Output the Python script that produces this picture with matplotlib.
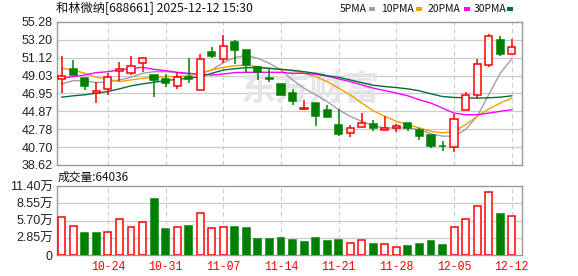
import matplotlib
matplotlib.use("Agg")
import matplotlib.pyplot as plt
from matplotlib.patches import Rectangle
import numpy as np

# ---- data ----
dates = ["10-20", "10-21", "10-22", "10-23", "10-24", "10-27", "10-28", "10-29", "10-30", "10-31",
         "11-03", "11-04", "11-05", "11-06", "11-07", "11-10", "11-11", "11-12", "11-13", "11-14",
         "11-17", "11-18", "11-19", "11-20", "11-21", "11-24", "11-25", "11-26", "11-27", "11-28",
         "12-01", "12-02", "12-03", "12-04", "12-05", "12-08", "12-09", "12-10", "12-11", "12-12"]

opens = [48.68, 49.76, 48.76, 47.03, 47.45, 49.61, 49.30, 50.46, 49.11, 48.61,
         47.84, 48.92, 47.30, 51.77, 50.92, 52.96, 52.00, 50.07, 48.72, 48.07,
         46.99, 45.17, 45.83, 44.98, 43.32, 42.36, 43.05, 43.40, 42.67, 42.90,
         43.52, 42.75, 42.09, 40.89, 40.74, 45.06, 46.76, 50.23, 53.16, 51.61]
closes = [48.95, 49.11, 47.87, 47.26, 48.84, 49.76, 50.11, 51.04, 48.53, 48.22,
          48.84, 48.61, 50.92, 51.31, 52.54, 52.00, 50.26, 49.49, 48.65, 46.80,
          46.02, 45.25, 44.29, 44.25, 42.21, 42.94, 43.52, 42.90, 42.95, 43.13,
          42.94, 41.97, 40.89, 40.78, 43.98, 46.72, 50.34, 53.62, 51.50, 52.39]
highs = [51.31, 50.84, 48.80, 48.34, 49.38, 50.61, 51.31, 51.23, 49.15, 49.19,
         49.49, 51.11, 51.54, 52.31, 53.74, 53.16, 52.00, 50.10, 49.88, 48.07,
         47.45, 46.22, 45.83, 45.64, 45.14, 43.25, 44.67, 43.90, 44.29, 43.44,
         43.52, 42.94, 42.09, 41.47, 44.60, 47.10, 50.92, 53.93, 53.62, 53.35]
lows = [47.06, 49.11, 47.37, 45.79, 46.83, 48.41, 49.11, 49.49, 46.52, 47.76,
        47.45, 48.22, 47.30, 51.11, 50.54, 50.34, 49.30, 48.53, 48.34, 46.80,
        45.56, 45.06, 43.13, 44.21, 41.97, 41.86, 43.05, 42.55, 42.67, 42.44,
        42.55, 41.59, 40.63, 40.24, 40.12, 45.06, 46.29, 50.07, 51.31, 51.50]
prev_close = 48.60  # close of the day before the window

ma5 = [48.07, 48.45, 48.41, 48.22, 48.30, 48.53, 48.84, 49.30, 49.49, 49.49,
       49.38, 49.22, 49.30, 49.69, 50.54, 51.15, 51.38, 51.04, 50.46, 49.69,
       48.53, 47.57, 46.80, 46.02, 45.06, 44.29, 43.71, 43.21, 42.94, 42.94,
       42.94, 42.75, 42.25, 41.98, 41.98, 42.75, 44.29, 46.80, 49.30, 50.96]
ma10 = [49.88, 49.69, 49.30, 48.84, 48.61, 48.34, 48.53, 48.72, 48.84, 48.92,
        48.92, 48.99, 49.30, 49.69, 50.00, 50.19, 50.27, 50.07, 49.88, 49.76,
        49.61, 49.30, 48.92, 48.34, 47.57, 46.80, 45.83, 44.94, 44.29, 43.71,
        43.32, 42.94, 42.55, 42.36, 42.55, 43.32, 44.29, 45.14, 45.83, 46.41]
ma20 = [48.72, 48.92, 49.11, 49.38, 49.49, 49.69, 49.88, 50.00, 49.76, 49.61,
        49.42, 49.30, 49.22, 49.11, 49.22, 49.38, 49.42, 49.42, 49.42, 49.42,
        49.30, 49.30, 49.19, 48.99, 48.65, 48.34, 47.95, 47.57, 47.30, 46.99,
        46.68, 46.22, 45.83, 45.25, 44.67, 44.48, 44.48, 44.67, 44.87, 45.06]
ma30 = [46.52, 46.68, 46.80, 46.99, 47.18, 47.49, 47.84, 48.07, 48.26, 48.45,
        48.61, 48.72, 48.92, 49.30, 49.69, 49.84, 49.96, 49.96, 49.88, 49.76,
        49.65, 49.49, 49.30, 49.03, 48.84, 48.53, 48.22, 47.91, 47.76, 47.64,
        47.49, 47.26, 46.91, 46.60, 46.49, 46.45, 46.41, 46.45, 46.52, 46.68]

volumes = [62000, 47200, 36700, 36700, 37800, 60300, 45500, 53700, 92100, 42800,
           45500, 47700, 70200, 43900, 45500, 46000, 44400, 26300, 26300, 28000,
           24700, 21400, 28000, 23000, 24700, 19700, 24100, 18100, 17500, 12600,
           14800, 18100, 23000, 16400, 45500, 60300, 81700, 104700, 67400, 64036]

price_ticks = [38.62, 40.70, 42.78, 44.87, 46.95, 49.03, 51.12, 53.20, 55.28]
vol_ticks = [0, 28500, 57000, 85500, 114000]
vol_labels = ["0", "2.85万", "5.70万", "8.55万", "11.40万"]
label_days = ["10-24", "10-31", "11-07", "11-14", "11-21", "11-28", "12-05", "12-12"]

ma_names = ["5PMA", "10PMA", "20PMA", "30PMA"]
ma_colors = ["#a0a0a0", "#f0a000", "#ff00ff", "#006f3c"]

RED = "#ff0000"
GREEN = "#008000"
FRAME = "#999999"
GRID = "#cccccc"

W, H = 578, 276
fig = plt.figure(figsize=(W / 100, H / 100), dpi=100)
fig.patch.set_facecolor("white")


def px_axes(left, top, right, bottom):
    return fig.add_axes([left / W, 1 - bottom / H, (right - left) / W, (bottom - top) / H])


x = np.arange(len(dates))
xlim = (-0.41, len(dates) - 1 + 0.89)
label_pos = [dates.index(d) for d in label_days]

ax = px_axes(57, 22, 522, 165)
axv = px_axes(57, 186, 522, 255)

for a in (ax, axv):
    a.set_xlim(*xlim)
    for s in a.spines.values():
        s.set_color(FRAME)
        s.set_linewidth(1.0)
    a.tick_params(length=0, pad=3)
    for p in label_pos:
        a.axvline(p, color=GRID, lw=0.8, ls=(0, (4, 3)), zorder=0)

# ---- price panel ----
ax.set_ylim(price_ticks[0], price_ticks[-1])
ax.set_yticks(price_ticks)
ax.set_yticklabels([f"{t:.2f}" for t in price_ticks], fontsize=9, family="Liberation Sans", color="#222222")
for t in price_ticks[1:-1]:
    ax.axhline(t, color=GRID, lw=0.9, zorder=0)
ax.set_xticks([])

# watermark
ax.text(21.6, 47.45, "东方财富", fontsize=25, color="#e4e4e9", ha="center", va="center",
        family=["Noto Sans CJK SC"], fontweight="bold", zorder=0.5)

for vals, col in zip([ma5, ma10, ma20, ma30], ma_colors):
    ax.plot(x, vals, color=col, lw=1.0, zorder=2)

o = np.array(opens)
c = np.array(closes)
up = c >= o
body_low = np.minimum(o, c)
body_h = np.maximum(np.abs(c - o), 0.02)
cols = np.where(up, RED, GREEN)
ax.vlines(x, lows, highs, colors=cols, lw=1.1, zorder=3)
ax.bar(x, body_h, bottom=body_low, width=0.62,
       color=np.where(up, "white", GREEN), edgecolor=cols, linewidth=1.1, zorder=4)

# ---- volume panel ----
axv.set_ylim(0, vol_ticks[-1])
axv.set_yticks(vol_ticks)
axv.set_yticklabels(vol_labels, fontsize=9, family=["Liberation Sans", "Noto Sans CJK SC"], color="#222222")
for t in vol_ticks[1:-1]:
    axv.axhline(t, color=GRID, lw=0.9, zorder=0)
axv.set_xticks(label_pos)
axv.set_xticklabels(label_days, fontsize=8.3, family="Liberation Mono", color=RED)
axv.tick_params(axis="x", pad=4)

prev = np.concatenate([[prev_close], c[:-1]])
vup = c >= prev
vcols = np.where(vup, RED, GREEN)
axv.bar(x, volumes, width=0.6, color=np.where(vup, "white", GREEN),
        edgecolor=vcols, linewidth=1.1, zorder=3)

# ---- header texts ----
fig.text(56 / W, 1 - 9 / H, "和林微纳[688661] 2025-12-12 15:30", fontsize=8.8,
         family=["Noto Sans CJK SC", "DejaVu Sans"], va="center", ha="left", color="#111111")
fig.text(58 / W, 1 - 177 / H, f"成交量:{volumes[-1]}", fontsize=8.5,
         family=["Noto Sans CJK SC", "DejaVu Sans"], va="center", ha="left", color="#111111")

leg_x = [340, 381, 428, 474]
sq_x = [369, 416, 464, 507]
for name, col, lx, sx in zip(ma_names, ma_colors, leg_x, sq_x):
    fig.text(lx / W, 1 - 9.5 / H, name, fontsize=7.5, family=["Noto Sans CJK SC"],
             va="center", ha="left", color="#111111")
    fig.patches.append(Rectangle((sx / W, 1 - 11 / H), 6 / W, 4 / H, transform=fig.transFigure,
                                 facecolor=col, edgecolor="none"))

fig.savefig("out.png", dpi=100, facecolor="white")
